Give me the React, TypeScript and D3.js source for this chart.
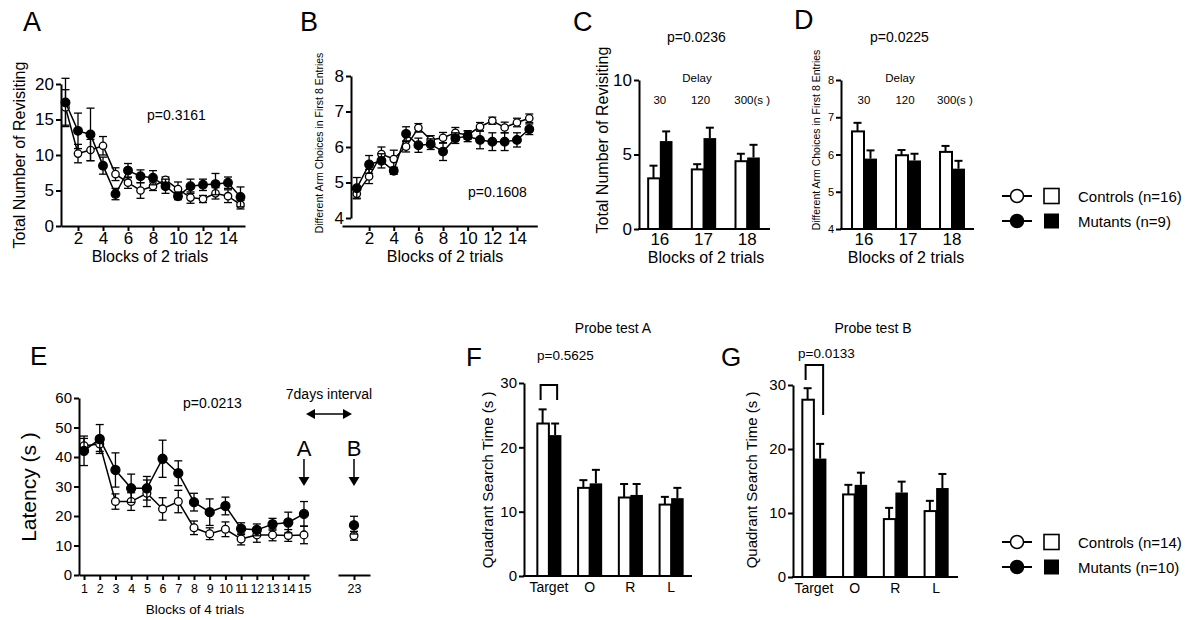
import { useEffect, useRef } from 'react'
import * as d3 from 'd3'

// Panel A: total number of revisiting, blocks of 2 trials
const aBlocks = [1, 2, 3, 4, 5, 6, 7, 8, 9, 10, 11, 12, 13, 14, 15]
const aCtrl = [16.7, 10.2, 10.7, 11.3, 7.3, 6.1, 5.0, 5.6, 6.5, 5.2, 4.0, 3.8, 4.6, 4.2, 3.0]
const aCtrlErr = [2.5, 1.3, 1.5, 1.3, 0.9, 0.8, 1.1, 0.6, 0.4, 1.0, 0.8, 0.5, 0.8, 0.9, 0.6]
const aMut = [17.4, 13.4, 12.9, 8.5, 4.5, 7.8, 7.0, 6.8, 5.6, 4.2, 5.6, 5.8, 5.9, 6.1, 4.1]
const aMutErr = [3.4, 2.5, 3.7, 1.2, 0.8, 1.0, 0.9, 1.0, 1.0, 0.5, 1.0, 0.8, 1.5, 0.8, 1.4]
const aXTicks = [2, 4, 6, 8, 10, 12, 14]
const aYTicks = [0, 5, 10, 15, 20]

// Panel B: different arm choices in first 8 entries
const bCtrl = [4.68, 5.17, 5.8, 5.66, 6.01, 6.54, 6.2, 6.26, 6.4, 6.34, 6.57, 6.74, 6.55, 6.69, 6.81]
const bCtrlErr = [0.12, 0.2, 0.2, 0.25, 0.15, 0.12, 0.12, 0.15, 0.15, 0.12, 0.12, 0.1, 0.15, 0.12, 0.12]
const bMut = [4.84, 5.51, 5.61, 5.33, 6.37, 6.05, 6.08, 5.87, 6.25, 6.3, 6.2, 6.15, 6.15, 6.2, 6.5]
const bMutErr = [0.3, 0.25, 0.2, 0.1, 0.2, 0.2, 0.15, 0.25, 0.15, 0.15, 0.25, 0.25, 0.25, 0.2, 0.15]
const bYTicks = [4, 5, 6, 7, 8]

// Panels C and D: delay blocks
const delayBlocks = ['16', '17', '18']
const delayLabels = ['30', '120', '300(s )']
const cCtrl = [3.4, 4.0, 4.55]
const cCtrlErr = [0.85, 0.35, 0.5]
const cMut = [5.9, 6.1, 4.8]
const cMutErr = [0.65, 0.7, 0.85]
const cYTicks = [0, 5, 10]
const dCtrl = [6.62, 5.98, 6.07]
const dCtrlErr = [0.23, 0.14, 0.16]
const dMut = [5.89, 5.84, 5.62]
const dMutErr = [0.22, 0.18, 0.21]
const dYTicks = [4, 5, 6, 7, 8]

// Panel E: latency, blocks of 4 trials (15 training blocks, probe at 23)
const eBlocks = [1, 2, 3, 4, 5, 6, 7, 8, 9, 10, 11, 12, 13, 14, 15, 23]
const eCtrl = [43.8, 44.4, 24.9, 24.9, 27.7, 22.4, 24.9, 16.0, 14.0, 15.5, 12.2, 13.6, 13.6, 13.4, 13.6, 13.3]
const eCtrlErr = [2.5, 2.5, 2.6, 3.0, 4.5, 3.8, 3.8, 2.3, 2.0, 2.5, 2.0, 2.5, 2.0, 2.0, 3.0, 1.5]
const eMut = [42.1, 46.1, 35.6, 29.4, 29.4, 39.4, 34.5, 24.7, 21.3, 23.4, 15.7, 15.3, 17.2, 17.8, 20.7, 16.9]
const eMutErr = [5.0, 4.9, 5.8, 4.8, 4.0, 6.3, 4.2, 3.0, 4.5, 3.0, 2.0, 2.0, 2.0, 3.5, 4.2, 3.0]
const eYTicks = [0, 10, 20, 30, 40, 50, 60]

// Panels F and G: probe tests
const quadrants = ['Target', 'O', 'R', 'L']
const fCtrl = [23.7, 13.7, 12.2, 11.1]
const fCtrlErr = [2.2, 1.2, 2.1, 1.2]
const fMut = [21.9, 14.4, 12.6, 12.1]
const fMutErr = [1.8, 2.1, 1.7, 1.6]
const gCtrl = [27.7, 12.9, 9.05, 10.3]
const gCtrlErr = [1.8, 1.5, 1.75, 1.6]
const gMut = [18.5, 14.4, 13.2, 13.9]
const gMutErr = [2.3, 1.9, 1.7, 2.2]
const fYTicks = [0, 10, 20, 30]

const font = '"Liberation Sans", Arial, Helvetica, sans-serif'

type Sel = d3.Selection<SVGSVGElement, unknown, null, undefined>

export default function App() {
  const svgRef = useRef<SVGSVGElement>(null)

  useEffect(() => {
    if (!svgRef.current) return
    const svg: Sel = d3.select(svgRef.current)
    svg.selectAll('*').remove()

    const text = (x: number, y: number, s: string, size: number, anchor = 'start') =>
      svg.append('text')
        .attr('x', x)
        .attr('y', y)
        .attr('text-anchor', anchor)
        .style('font-family', font)
        .style('font-size', size + 'px')
        .attr('fill', '#000')
        .text(s)

    const vtext = (x: number, y: number, s: string, size: number) =>
      svg.append('text')
        .attr('transform', `translate(${x},${y}) rotate(-90)`)
        .attr('text-anchor', 'middle')
        .style('font-family', font)
        .style('font-size', size + 'px')
        .attr('fill', '#000')
        .text(s)

    const styleAxis = (g: any, size: number) => {
      g.attr('font-family', null)
      g.select('.domain').attr('stroke', '#000').attr('stroke-width', 2)
      g.selectAll('.tick line').attr('stroke', '#000').attr('stroke-width', 2)
      g.selectAll('.tick text')
        .attr('fill', '#000')
        .style('font-size', size + 'px')
        .style('font-family', font)
    }

    const yAxis = (x: number, y: d3.ScaleLinear<number, number>, ticks: number[], size: number) => {
      const g = svg.append('g')
        .attr('transform', `translate(${x},0)`)
        .call(d3.axisLeft(y).tickValues(ticks).tickSize(5).tickSizeOuter(0).tickPadding(2).tickFormat(d3.format('d')))
      styleAxis(g, size)
    }

    const xAxisLinear = (y: number, x: d3.ScaleLinear<number, number>, ticks: number[], size: number, pad = 3) => {
      const g = svg.append('g')
        .attr('transform', `translate(0,${y})`)
        .call(d3.axisBottom(x).tickValues(ticks).tickSize(5).tickSizeOuter(0).tickPadding(pad).tickFormat(d3.format('d')))
      styleAxis(g, size)
    }

    const line = (x1: number, y1: number, x2: number, y2: number, w = 2) =>
      svg.append('line')
        .attr('x1', x1).attr('y1', y1).attr('x2', x2).attr('y2', y2)
        .attr('stroke', '#000').attr('stroke-width', w)

    // line series with symmetric error bars
    const series = (
      pos: (b: number) => number,
      y: d3.ScaleLinear<number, number>,
      xs: number[],
      vals: number[],
      errs: number[],
      filled: boolean,
      r: number,
      connectCount: number
    ) => {
      const g = svg.append('g')
      xs.forEach((b, i) => {
        const cx = pos(b)
        const lo = y(vals[i] - errs[i])
        const hi = y(vals[i] + errs[i])
        g.append('line').attr('x1', cx).attr('x2', cx).attr('y1', lo).attr('y2', hi)
          .attr('stroke', '#000').attr('stroke-width', 1.3)
        ;[lo, hi].forEach(yy => {
          g.append('line').attr('x1', cx - 4).attr('x2', cx + 4).attr('y1', yy).attr('y2', yy)
            .attr('stroke', '#000').attr('stroke-width', 1.3)
        })
      })
      const pts = xs.slice(0, connectCount).map((b, i) => [pos(b), y(vals[i])] as [number, number])
      g.append('path')
        .attr('d', d3.line()(pts))
        .attr('fill', 'none')
        .attr('stroke', '#000')
        .attr('stroke-width', 1.5)
      xs.forEach((b, i) => {
        g.append('circle')
          .attr('cx', pos(b))
          .attr('cy', y(vals[i]))
          .attr('r', filled ? r : r - 0.6)
          .attr('fill', filled ? '#000' : '#fff')
          .attr('stroke', '#000')
          .attr('stroke-width', 1.3)
      })
    }

    // grouped bars, error bar on top only
    const bars = (
      x: d3.ScaleBand<string>,
      y: d3.ScaleLinear<number, number>,
      cats: string[],
      groups: { vals: number[]; errs: number[]; filled: boolean }[]
    ) => {
      const sub = d3.scaleBand<number>().domain([0, 1]).range([0, x.bandwidth()])
      const g = svg.append('g')
      const base = y.range()[0]
      cats.forEach((c, i) => {
        groups.forEach((grp, j) => {
          const bx = (x(c) || 0) + (sub(j) || 0)
          const w = sub.bandwidth()
          const top = y(grp.vals[i])
          const cx = bx + w / 2
          const et = y(grp.vals[i] + grp.errs[i])
          g.append('line').attr('x1', cx).attr('x2', cx).attr('y1', top).attr('y2', et)
            .attr('stroke', '#000').attr('stroke-width', 2)
          g.append('line').attr('x1', cx - 4).attr('x2', cx + 4).attr('y1', et).attr('y2', et)
            .attr('stroke', '#000').attr('stroke-width', 2)
          g.append('rect')
            .attr('x', grp.filled ? bx : bx + 1)
            .attr('y', top)
            .attr('width', grp.filled ? w : w - 1)
            .attr('height', base - top)
            .attr('fill', grp.filled ? '#000' : '#fff')
            .attr('stroke', '#000')
            .attr('stroke-width', grp.filled ? 0 : 2)
        })
      })
    }

    const bandLabels = (y: number, x: d3.ScaleBand<string>, size: number, pad: number) => {
      const g = svg.append('g')
        .attr('transform', `translate(0,${y})`)
        .call(d3.axisBottom(x).tickSize(0).tickPadding(pad))
      styleAxis(g, size)
      g.select('.domain').remove()
    }

    const legend = (y0: number, labels: string[]) => {
      labels.forEach((lab, i) => {
        const yy = y0 + i * 25
        line(1002, yy, 1032, yy, 2)
        svg.append('circle').attr('cx', 1017).attr('cy', yy).attr('r', 6.5)
          .attr('fill', i === 0 ? '#fff' : '#000').attr('stroke', '#000').attr('stroke-width', 1.5)
        svg.append('rect').attr('x', 1044).attr('y', yy - 7.5).attr('width', 15).attr('height', 15)
          .attr('fill', i === 0 ? '#fff' : '#000').attr('stroke', '#000').attr('stroke-width', i === 0 ? 1.6 : 0)
        text(1078, yy + 5.5, lab, 15)
      })
    }

    // ---------- Panel A
    const aX = d3.scaleLinear().domain([0.64, 15.36]).range([61, 245])
    const aY = d3.scaleLinear().domain([0, 20]).range([226, 84])
    yAxis(61, aY, aYTicks, 17)
    xAxisLinear(226, aX, aXTicks, 17, 1)
    series(aX, aY, aBlocks, aCtrl, aCtrlErr, false, 4.3, 15)
    series(aX, aY, aBlocks, aMut, aMutErr, true, 4.3, 15)
    text(23, 31, 'A', 27)
    text(147, 120, 'p=0.3161', 14)
    vtext(25, 155, 'Total  Number of Revisiting', 16)
    text(150, 262, 'Blocks of 2 trials', 16, 'middle')

    // ---------- Panel B
    const bX = d3.scaleLinear().domain([-0.2, 15.65]).range([342, 537.3])
    const bY = d3.scaleLinear().domain([4, 8]).range([218, 76])
    yAxis(351, bY, bYTicks, 17)
    xAxisLinear(226, bX, aXTicks, 17, 1)
    series(bX, bY, aBlocks, bCtrl, bCtrlErr, false, 4.3, 15)
    series(bX, bY, aBlocks, bMut, bMutErr, true, 4.3, 15)
    text(300, 31, 'B', 27)
    text(468, 197, 'p=0.1608', 14)
    vtext(323, 143, 'Different Arm Choices in First 8 Entries', 10.5)
    text(445, 262, 'Blocks of 2 trials', 16, 'middle')

    // ---------- Panel C
    const cX = d3.scaleBand().domain(delayBlocks).range([638, 769]).paddingInner(0.42).paddingOuter(0.21)
    const cY = d3.scaleLinear().domain([0, 10]).range([229, 80])
    bars(cX, cY, delayBlocks, [
      { vals: cCtrl, errs: cCtrlErr, filled: false },
      { vals: cMut, errs: cMutErr, filled: true }
    ])
    yAxis(639, cY, cYTicks, 17)
    line(638, 229, 770, 229)
    bandLabels(229, cX, 17, 4)
    text(573, 31, 'C', 27)
    text(667, 42, 'p=0.0236', 14)
    text(697, 82, 'Delay', 11.5, 'middle')
    delayBlocks.forEach((b, i) =>
      text((cX(b) || 0) + cX.bandwidth() / 2 + (i === 2 ? 5 : i === 1 ? -3 : 0), 104, delayLabels[i], 11.5, 'middle'))
    vtext(608, 140, 'Total  Number of Revisiting', 16)
    text(706, 263, 'Blocks of 2 trials', 16, 'middle')

    // ---------- Panel D
    const dX = d3.scaleBand().domain(delayBlocks).range([842, 974]).paddingInner(0.41).paddingOuter(0.205)
    const dY = d3.scaleLinear().domain([4, 8]).range([229, 80])
    bars(dX, dY, delayBlocks, [
      { vals: dCtrl, errs: dCtrlErr, filled: false },
      { vals: dMut, errs: dMutErr, filled: true }
    ])
    yAxis(841, dY, dYTicks, 11)
    line(840, 229, 974, 229)
    bandLabels(229, dX, 17, 4)
    text(794, 29, 'D', 27)
    text(870, 42, 'p=0.0225', 14)
    text(900, 82, 'Delay', 11.5, 'middle')
    delayBlocks.forEach((b, i) =>
      text((dX(b) || 0) + dX.bandwidth() / 2 + (i === 2 ? 3 : i === 1 ? -3 : 0), 104, delayLabels[i], 11.5, 'middle'))
    vtext(820, 140, 'Different Arm Choices in First 8 Entries', 10.5)
    text(906, 263, 'Blocks of 2 trials', 16, 'middle')

    legend(196, ['Controls (n=16)', 'Mutants (n=9)'])

    // ---------- Panel E
    const eX = d3.scaleLinear().domain([0.68, 15.32]).range([79, 309])
    const eX2 = d3.scaleLinear().domain([21, 25]).range([338, 370])
    const ePos = (b: number) => (b <= 15 ? eX(b) : eX2(b))
    const eY = d3.scaleLinear().domain([0, 60]).range([575, 398])
    yAxis(79, eY, eYTicks, 15)
    xAxisLinear(575, eX, eBlocks.slice(0, 15), 12.5, 4)
    xAxisLinear(575, eX2, [23], 12.5, 4)
    series(ePos, eY, eBlocks, eCtrl, eCtrlErr, false, 4.5, 15)
    series(ePos, eY, eBlocks, eMut, eMutErr, true, 4.5, 15)
    text(30, 365, 'E', 26)
    text(183, 408, 'p=0.0213', 14)
    vtext(36, 487, 'Latency (s )', 21)
    text(195, 614, 'Blocks of 4 trials', 13.5, 'middle')
    // probe annotations
    const pA = eX(15)
    const pB = eX2(23)
    text((pA + pB) / 2, 399, '7days interval', 14, 'middle')
    line(pA + 8, 414, pB - 8, 414, 1.5)
    svg.append('path').attr('d', `M${pA + 2},414 L${pA + 11},409 L${pA + 11},419 Z`).attr('fill', '#000')
    svg.append('path').attr('d', `M${pB - 2},414 L${pB - 11},409 L${pB - 11},419 Z`).attr('fill', '#000')
    ;[['A', pA], ['B', pB]].forEach(([s, px]) => {
      const x = px as number
      text(x, 456, s as string, 22, 'middle')
      line(x, 459, x, 478, 1.5)
      svg.append('path').attr('d', `M${x - 5.5},477 L${x + 5.5},477 L${x},486 Z`).attr('fill', '#000')
    })

    // ---------- Panel F
    const fX = d3.scaleBand().domain(quadrants).range([528.6, 691.4]).paddingInner(0.385).paddingOuter(0.19)
    const fY = d3.scaleLinear().domain([0, 30]).range([576, 383])
    bars(fX, fY, quadrants, [
      { vals: fCtrl, errs: fCtrlErr, filled: false },
      { vals: fMut, errs: fMutErr, filled: true }
    ])
    yAxis(524, fY, fYTicks, 15)
    line(523, 576, 692, 576)
    bandLabels(576, fX, 14, 6)
    text(466, 366, 'F', 26)
    text(613, 333, 'Probe test A', 14, 'middle')
    text(537, 360, 'p=0.5625', 13.5)
    vtext(493, 480, 'Quadrant Search Time (s )', 15)
    {
      const x0 = (fX('Target') || 0) + fX.bandwidth() * 0.25 - 2
      const x1 = (fX('Target') || 0) + fX.bandwidth() * 0.75 + 2
      svg.append('path').attr('d', `M${x0},400 V385 H${x1} V400`)
        .attr('fill', 'none').attr('stroke', '#000').attr('stroke-width', 2)
    }

    // ---------- Panel G
    const gX = d3.scaleBand().domain(quadrants).range([793.6, 956.4]).paddingInner(0.385).paddingOuter(0.19)
    const gY = d3.scaleLinear().domain([0, 30]).range([577, 385])
    bars(gX, gY, quadrants, [
      { vals: gCtrl, errs: gCtrlErr, filled: false },
      { vals: gMut, errs: gMutErr, filled: true }
    ])
    yAxis(793, gY, fYTicks, 15)
    line(792, 577, 958, 577)
    bandLabels(577, gX, 14, 6)
    text(721, 366, 'G', 26)
    text(873, 333, 'Probe test B', 14, 'middle')
    text(798, 358, 'p=0.0133', 13.5)
    vtext(757, 480, 'Quadrant Search Time (s )', 15)
    {
      const x0 = (gX('Target') || 0) + gX.bandwidth() * 0.25 - 2
      const x1 = (gX('Target') || 0) + gX.bandwidth() * 0.75 + 3
      svg.append('path').attr('d', `M${x0},380 V365 H${x1} V415`)
        .attr('fill', 'none').attr('stroke', '#000').attr('stroke-width', 2)
    }

    legend(542, ['Controls (n=14)', 'Mutants (n=10)'])
  }, [])

  return (
    <svg
      ref={svgRef}
      width={1200}
      height={620}
      style={{ position: 'absolute', left: 0, top: 0, background: '#fff' }}
    />
  )
}
